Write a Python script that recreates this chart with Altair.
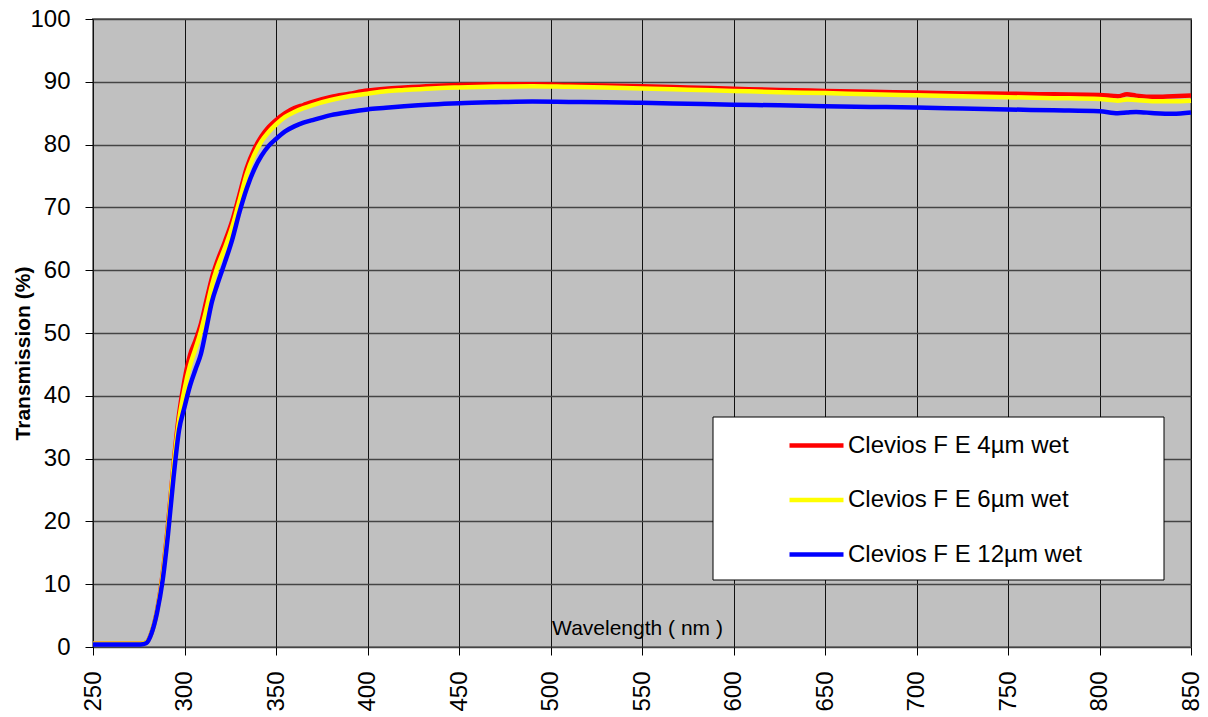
import altair as alt
import pandas as pd

wavelength = [250, 260, 270, 276, 279, 282, 285, 288, 291, 294, 297, 300, 303, 306, 309,
              312, 315, 318, 322, 326, 330, 334, 338, 342, 346, 350, 355, 360, 365, 370,
              380, 390, 400, 410, 420, 435, 450, 470, 490, 510, 530, 550, 575, 600, 625,
              650, 675, 700, 725, 750, 775, 800, 810, 815, 820, 830, 840, 850]

red_4um = [0.5, 0.5, 0.5, 0.5, 0.7, 2.3, 5.8, 11.5, 19.5, 29.0, 37.0, 42.5, 46.5, 48.8, 51.5,
           55.2, 58.8, 61.5, 64.5, 67.8, 72.0, 76.3, 79.2, 81.3, 82.8, 83.9, 85.0, 85.8, 86.3, 86.8,
           87.6, 88.1, 88.6, 88.9, 89.1, 89.35, 89.5, 89.6, 89.6, 89.5, 89.4, 89.3, 89.1, 88.9, 88.7,
           88.55, 88.4, 88.3, 88.15, 88.1, 88.0, 87.9, 87.7, 88.0, 87.8, 87.6, 87.7, 87.8]

yellow_6um = [0.5, 0.5, 0.5, 0.5, 0.7, 2.3, 5.7, 11.2, 19.0, 28.5, 36.0, 41.0, 44.8, 47.5, 50.3,
              53.8, 57.6, 60.5, 63.5, 66.8, 71.0, 75.3, 78.3, 80.5, 82.0, 83.2, 84.4, 85.2, 85.8, 86.3,
              87.1, 87.7, 88.1, 88.5, 88.7, 88.95, 89.1, 89.25, 89.3, 89.2, 89.1, 88.95, 88.75, 88.55, 88.35,
              88.2, 88.0, 87.85, 87.7, 87.55, 87.4, 87.25, 87.0, 87.2, 87.1, 86.9, 86.9, 87.0]

blue_12um = [0.4, 0.4, 0.4, 0.4, 0.6, 2.2, 5.5, 10.5, 18.0, 27.0, 34.5, 38.2, 41.6, 44.2, 46.7,
             50.8, 55.0, 57.8, 61.2, 64.8, 69.2, 73.0, 76.0, 78.2, 79.8, 80.9, 82.1, 82.9, 83.5, 83.9,
             84.7, 85.2, 85.6, 85.85, 86.1, 86.4, 86.6, 86.75, 86.85, 86.8, 86.75, 86.65, 86.5, 86.35, 86.25,
             86.1, 86.0, 85.9, 85.75, 85.6, 85.45, 85.3, 85.0, 85.1, 85.2, 85.0, 84.9, 85.1]

series_names = ["Clevios F E 4µm wet", "Clevios F E 6µm wet", "Clevios F E 12µm wet"]
series_colors = ["#FF0000", "#FFFF00", "#0000FF"]
x_ticks = list(range(250, 851, 50))
y_ticks = list(range(0, 101, 10))

FONT = "Liberation Sans, Arial, sans-serif"

color_enc = alt.Color(
    "series:N",
    scale=alt.Scale(domain=series_names, range=series_colors),
    sort=series_names,
    legend=alt.Legend(
        title=None, orient="none", legendX=694, legendY=397, padding=0,
        symbolType="stroke", symbolSize=2916, symbolStrokeWidth=4.5,
        labelFontSize=24, labelFont=FONT, labelColor="black", labelOffset=2,
        rowPadding=12.5, labelLimit=0,
    ),
)

x_enc = alt.X(
    "wl:Q",
    scale=alt.Scale(domain=[250, 850], nice=False, zero=False),
    axis=alt.Axis(
        values=x_ticks, title="Wavelength ( nm )", grid=True, gridColor="#111", gridWidth=1,
        domain=False, tickSize=8, tickColor="black", labelAngle=270, labelFontSize=24,
        labelFont=FONT, labelColor="black", labelPadding=16, labelFlush=False, labelOverlap=False,
        titleFont=FONT, titleFontSize=21, titleFontWeight="normal", titleColor="black",
        titleX=544, titleY=-13, titleAlign="center", titleBaseline="alphabetic",
    ),
)

y_enc = alt.Y(
    "T:Q",
    scale=alt.Scale(domain=[0, 100], nice=False),
    axis=alt.Axis(
        values=y_ticks, title="Transmission (%)", grid=True, gridColor="#444", gridWidth=1.3,
        domain=False, tickSize=8, tickColor="black", labelFontSize=24, labelFont=FONT,
        labelColor="black", labelPadding=15, labelOverlap=False,
        titleFont=FONT, titleFontSize=21, titleFontWeight="bold", titleColor="black",
        titleX=-70, titleY=334, titleAngle=270, titleAlign="center", titleBaseline="middle",
    ),
)

layers = []
for name, vals in zip(series_names, [red_4um, yellow_6um, blue_12um]):
    d = pd.DataFrame({"wl": wavelength, "T": vals, "series": name})
    layers.append(
        alt.Chart(d).mark_line(strokeWidth=4.5, interpolate="monotone").encode(
            x=x_enc, y=y_enc, color=color_enc
        )
    )

legend_box = alt.Chart(pd.DataFrame({"a": [0]})).mark_rect(
    fill="white", stroke="black", strokeWidth=1
).encode(x=alt.value(620), x2=alt.value(1071), y=alt.value(398), y2=alt.value(561))

chart = alt.layer(*layers, legend_box).properties(
    width=1098, height=628,
    autosize=alt.AutoSizeParams(type="none"),
    padding={"left": 85, "top": 11, "right": 9, "bottom": 75},
).configure_view(
    fill="#C0C0C0", stroke="#808080", strokeWidth=2
)

chart.save("out.html", embed_options={"renderer": "svg", "actions": False})
